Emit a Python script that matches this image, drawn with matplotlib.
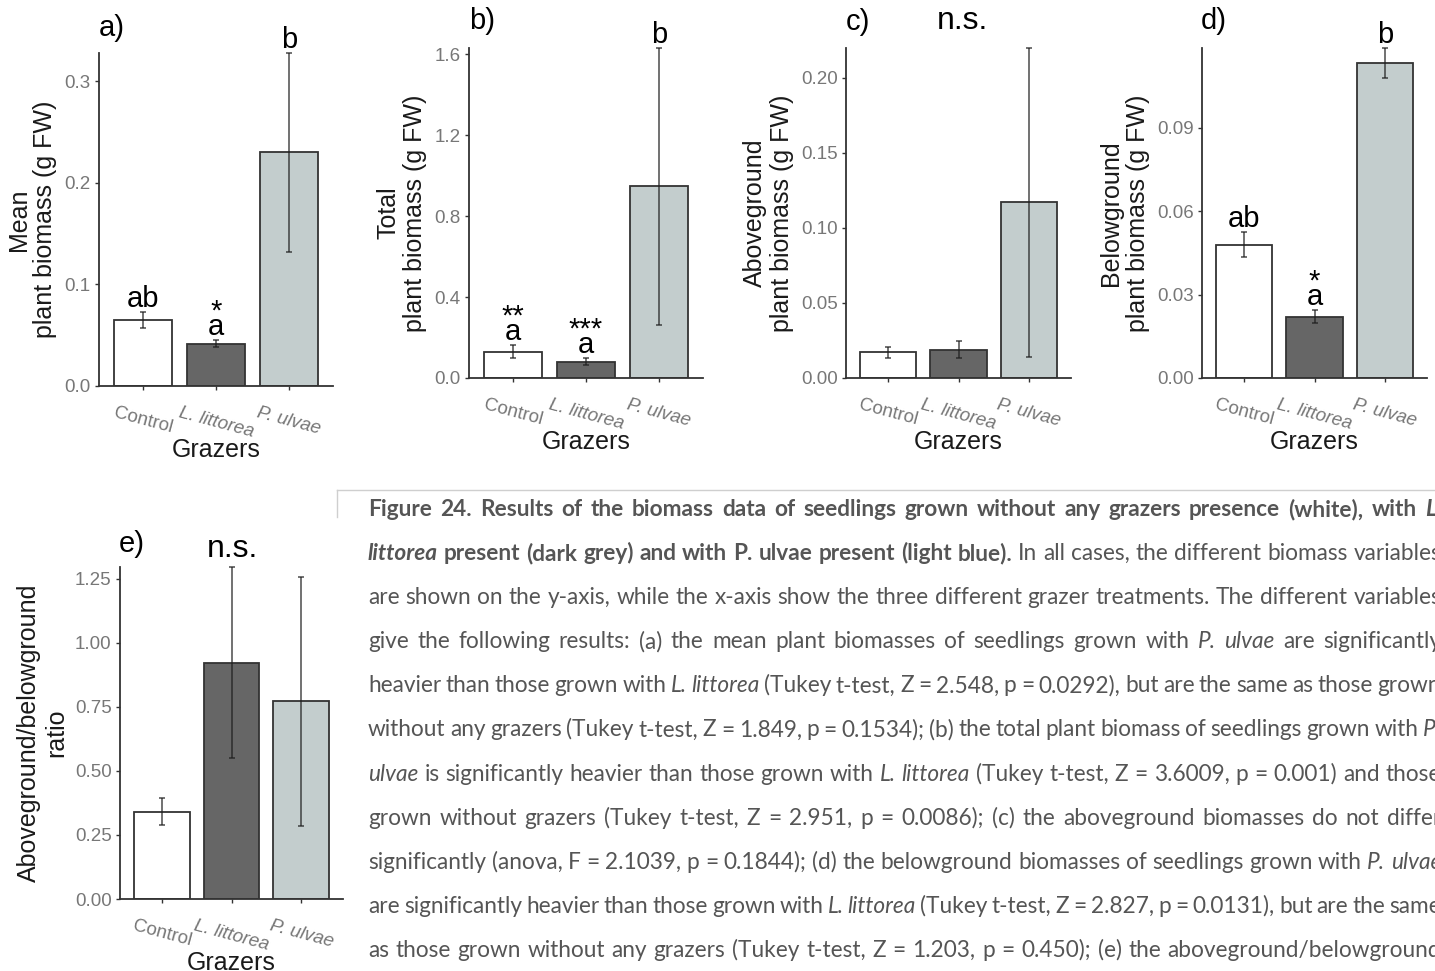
import matplotlib
matplotlib.use("Agg")
import matplotlib.pyplot as plt
from matplotlib.lines import Line2D

W, H, DPI = 1435, 971, 100

plt.rcParams["font.family"] = ["Liberation Sans", "DejaVu Sans"]

GRAZERS = ["Control", "L. littorea", "P. ulvae"]
FILLS = ["#ffffff", "#666666", "#c3cdcd"]
EDGE = "#333333"

# (a) mean plant biomass, g FW
MEAN_BIOMASS = [0.065, 0.0415, 0.230]
MEAN_BIOMASS_SE = [0.008, 0.0035, 0.098]
# (b) total plant biomass
TOTAL_BIOMASS = [0.130, 0.081, 0.946]
TOTAL_BIOMASS_SE = [0.033, 0.018, 0.684]
# (c) aboveground biomass
ABOVE_BIOMASS = [0.0170, 0.0188, 0.1170]
ABOVE_BIOMASS_SE = [0.0037, 0.0056, 0.1027]
# (d) belowground biomass
BELOW_BIOMASS = [0.0479, 0.0221, 0.1133]
BELOW_BIOMASS_SE = [0.0045, 0.0024, 0.0054]
# (e) above/below ratio
RATIO = [0.341, 0.923, 0.771]
RATIO_SE = [0.052, 0.373, 0.486]

LETTERS_A = ["ab", "a", "b"]
STARS_A = ["", "*", ""]
LETTERS_B = ["a", "a", "b"]
STARS_B = ["**", "***", ""]
LETTERS_D = ["ab", "a", "b"]
STARS_D = ["", "*", ""]

TICKS_A = [0.0, 0.1, 0.2, 0.3]
TICKS_B = [0.0, 0.4, 0.8, 1.2, 1.6]
TICKS_C = [0.00, 0.05, 0.10, 0.15, 0.20]
TICKS_D = [0.00, 0.03, 0.06, 0.09]
TICKS_E = [0.00, 0.25, 0.50, 0.75, 1.00, 1.25]

CAPTION = [
    [("Figure 24. Results of the biomass data of seedlings grown without any grazers presence (white), with", "b"),
     ("L.", "bi")],
    [("littorea", "bi"), ("present (dark grey) and with P. ulvae present (light blue).", "b"),
     ("In all cases, the different biomass variables", "r")],
    [("are shown on the y-axis, while the x-axis show the three different grazer treatments. The different variables", "r")],
    [("give the following results: (a) the mean plant biomasses of seedlings grown with", "r"), ("P. ulvae", "i"),
     ("are significantly", "r")],
    [("heavier than those grown with", "r"), ("L. littorea", "i"),
     ("(Tukey t-test, Z = 2.548, p = 0.0292), but are the same as those grown", "r")],
    [("without any grazers (Tukey t-test, Z = 1.849, p = 0.1534); (b) the total plant biomass of seedlings grown with", "r"),
     ("P.", "i")],
    [("ulvae", "i"), ("is significantly heavier than those grown with", "r"), ("L. littorea", "i"),
     ("(Tukey t-test, Z = 3.6009, p = 0.001) and those", "r")],
    [("grown without grazers (Tukey t-test, Z = 2.951, p = 0.0086); (c) the aboveground biomasses do not differ", "r")],
    [("significantly (anova, F = 2.1039, p = 0.1844); (d) the belowground biomasses of seedlings grown with", "r"),
     ("P. ulvae", "i")],
    [("are significantly heavier than those grown with", "r"), ("L. littorea", "i"),
     ("(Tukey t-test, Z = 2.827, p = 0.0131), but are the same", "r")],
    [("as those grown without any grazers (Tukey t-test, Z = 1.203, p = 0.450); (e) the aboveground/belowground", "r")],
]

fig = plt.figure(figsize=(W / DPI, H / DPI), dpi=DPI, facecolor="white")


def px_box(x0, top, x1, bottom):
    return [x0 / W, 1 - bottom / H, (x1 - x0) / W, (bottom - top) / H]


def panel(box, means, se, ylabel, ticks, fmt, letters=None, stars=None):
    ax = fig.add_axes(px_box(*box))
    pos = [1, 2, 3]
    ax.bar(pos, means, width=0.8, color=FILLS, edgecolor=EDGE, linewidth=1.3, zorder=2)
    eb = ax.errorbar(pos, means, yerr=se, fmt="none", ecolor="#1e1e1e", elinewidth=1.1,
                     capsize=2.4, capthick=1.1, alpha=0.8, zorder=3)
    for art in list(eb.lines[1]) + list(eb.lines[2]):
        art.set_clip_on(False)
    top = max(m + s for m, s in zip(means, se))
    ax.set_xlim(0.4, 3.6)
    ax.set_ylim(0, top)

    for side in ("top", "right"):
        ax.spines[side].set_visible(False)
    for side in ("left", "bottom"):
        ax.spines[side].set_color(EDGE)
        ax.spines[side].set_linewidth(1.3)

    ax.set_yticks(ticks)
    ax.set_yticklabels([fmt.format(t) for t in ticks])
    ax.set_xticks(pos)
    ax.set_xticklabels(GRAZERS, rotation=-15, ha="center", va="top")
    for lab in ax.get_xticklabels()[1:]:
        lab.set_fontstyle("italic")
    ax.tick_params(axis="both", length=3, width=1.0, color=EDGE, labelcolor="#777777",
                   labelsize=13.5)
    ax.tick_params(axis="x", pad=10)
    ax.tick_params(axis="y", pad=3)
    ax.set_xlabel("Grazers", fontsize=18, color="#1a1a1a", labelpad=-2)
    ax.set_ylabel(ylabel, fontsize=18, color="#1a1a1a", labelpad=5, linespacing=1.15)

    if letters:
        for x, m, s, let, st in zip(pos, means, se, letters, stars):
            ax.annotate(let, (x, m + s), xytext=(0, -0.5), textcoords="offset points",
                        ha="center", va="bottom", fontsize=21, annotation_clip=False)
            if st:
                ax.annotate(st, (x, m + s), xytext=(0, 10.5), textcoords="offset points",
                            ha="center", va="bottom", fontsize=21, annotation_clip=False)
    return ax


panel((99, 53, 333, 386), MEAN_BIOMASS, MEAN_BIOMASS_SE, "Mean\nplant biomass (g FW)",
      TICKS_A, "{:.1f}", LETTERS_A, STARS_A)
panel((469, 48, 703, 378), TOTAL_BIOMASS, TOTAL_BIOMASS_SE, "Total\nplant biomass (g FW)",
      TICKS_B, "{:.1f}", LETTERS_B, STARS_B)
panel((846, 48, 1071, 378), ABOVE_BIOMASS, ABOVE_BIOMASS_SE, "Aboveground\nplant biomass (g FW)",
      TICKS_C, "{:.2f}")
panel((1202, 48, 1427, 378), BELOW_BIOMASS, BELOW_BIOMASS_SE, "Belowground\nplant biomass (g FW)",
      TICKS_D, "{:.2f}", LETTERS_D, STARS_D)
panel((120, 567, 343, 899), RATIO, RATIO_SE, "Aboveground/belowground\nratio",
      TICKS_E, "{:.2f}")

# panel tags and n.s. marks
for tag, x, y in [("a)", 99, 28), ("b)", 469, 21), ("c)", 846, 22), ("d)", 1201, 21), ("e)", 119, 544)]:
    fig.text(x / W, 1 - y / H, tag, fontsize=21, ha="left", va="center")
for x, y in [(962, 21), (232, 549)]:
    fig.text(x / W, 1 - y / H, "n.s.", fontsize=23, ha="center", va="center")

# caption frame corner
fig.add_artist(Line2D([337 / W, 1.0], [1 - 490 / H] * 2, color="#cfcfcf", lw=1.0))
fig.add_artist(Line2D([337 / W] * 2, [1 - 490 / H, 1 - 517 / H], color="#cfcfcf", lw=1.0))

# justified caption
CAP_FONT = "Lato"
CAP_COLOR = "#555555"
renderer = fig.canvas.get_renderer()
base = 12.0
rows = []
for segs in CAPTION:
    words = []
    for txt, style in segs:
        for w in txt.split():
            words.append(fig.text(0, 0, w, fontsize=base, family=CAP_FONT, color=CAP_COLOR,
                                  fontweight="bold" if "b" in style else "normal",
                                  fontstyle="italic" if "i" in style else "normal",
                                  va="baseline", ha="left"))
    rows.append(words)


def widths(words):
    return [t.get_window_extent(renderer).width for t in words]


left, right = 368, 1441
span = right - left
size = min(span / (sum(widths(ws)) / base + 0.2 * DPI / 72 * (len(ws) - 1)) for ws in rows)
for i, ws in enumerate(rows):
    for t in ws:
        t.set_fontsize(size)
    ww = widths(ws)
    gap = (span - sum(ww)) / (len(ws) - 1)
    x, y = left, 516 + i * 44.1
    for t, w in zip(ws, ww):
        t.set_position((x / W, 1 - y / H))
        x += w + gap

fig.savefig("out.png", dpi=DPI)
